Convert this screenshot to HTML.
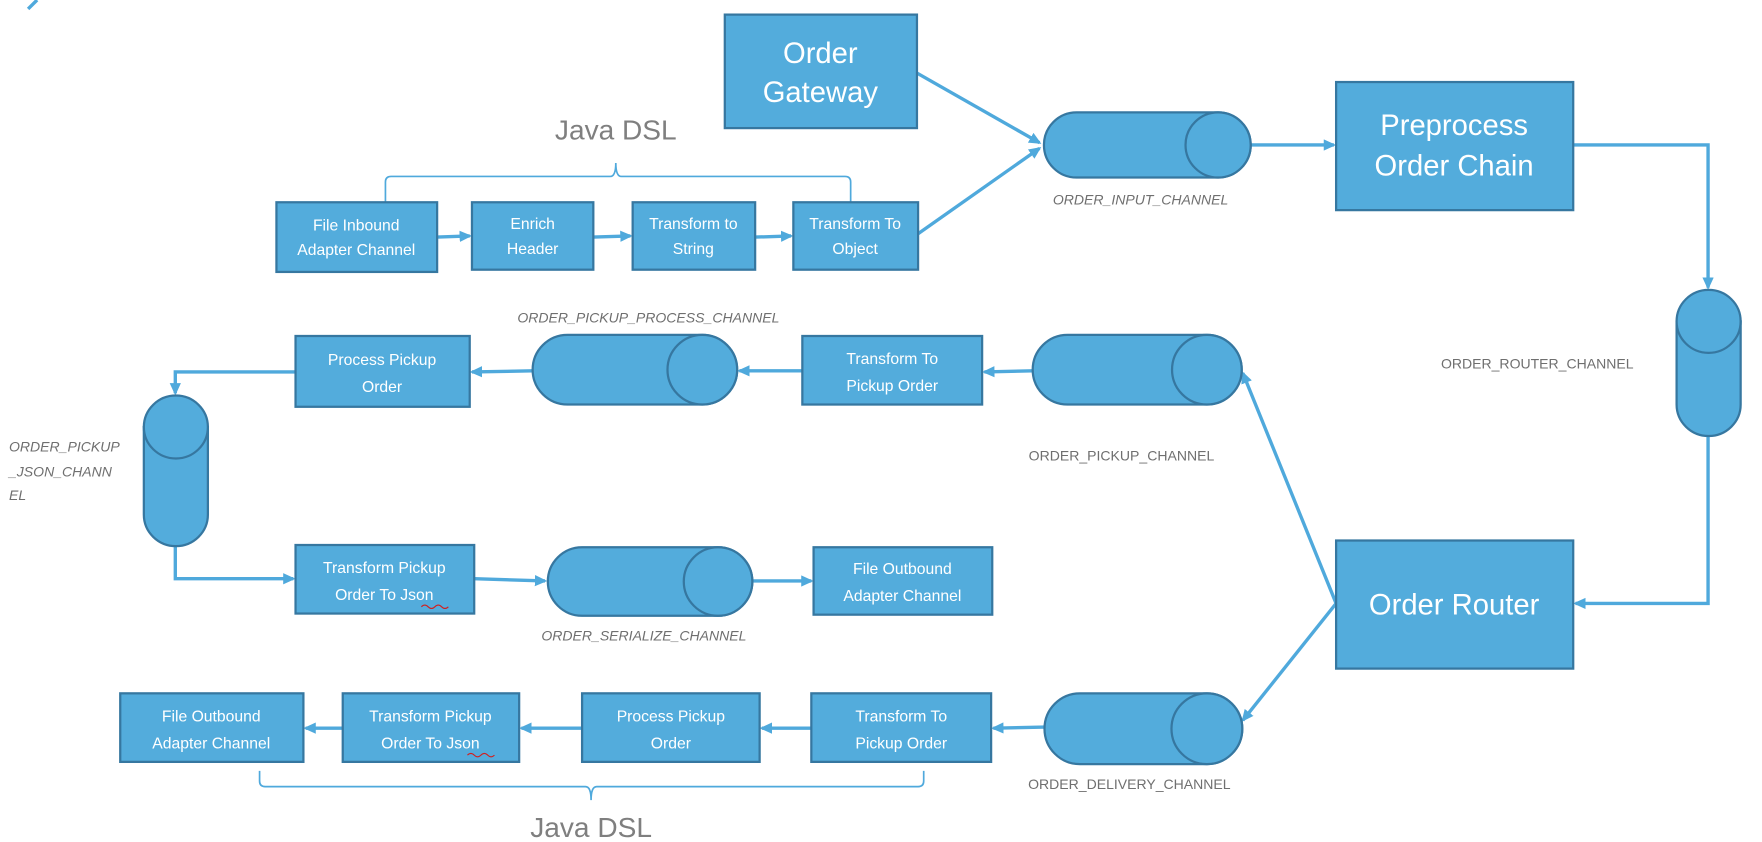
<!DOCTYPE html>
<html><head><meta charset="utf-8"><style>
html,body{margin:0;padding:0;background:#fff;}
svg{display:block}
.b{fill:#53acdc;stroke:#3677a0;stroke-width:2}
.t{fill:#fff;font-family:"Liberation Sans",sans-serif;text-anchor:middle}
.s{font-size:14px}
.L{font-size:26px}
.a{stroke:#4fa9dc;stroke-width:3;fill:none}
.lab{fill:#6f6f6f;font-family:"Liberation Sans",sans-serif;font-size:12.5px;text-anchor:middle}
.i{font-style:italic}
.j{fill:#7f7f7f;font-family:"Liberation Sans",sans-serif;font-size:25px;text-anchor:middle}
</style></head><body>
<svg width="1762" height="842" viewBox="0 0 1568 749.3" preserveAspectRatio="none">
<defs><marker id="m" markerWidth="12" markerHeight="12" refX="9" refY="5" orient="auto" markerUnits="userSpaceOnUse"><path d="M0,0 L11,5 L0,10 Z" fill="#4fa9dc"/></marker></defs>
<line x1="25" y1="8" x2="33" y2="0" class="a"/>

<line class="a" x1="816" y1="65" x2="925" y2="127" marker-end="url(#m)"/>
<line class="a" x1="817" y1="208" x2="925" y2="132" marker-end="url(#m)"/>
<line class="a" x1="1113" y1="129" x2="1187" y2="129" marker-end="url(#m)"/>
<polyline class="a" points="1400,129 1520,129 1520,256" marker-end="url(#m)"/>
<polyline class="a" points="1520,388 1520,537 1402,537" marker-end="url(#m)"/>
<polyline class="a" points="1189,537 1106,332" marker-end="url(#m)"/>
<polyline class="a" points="1189,537 1106,641" marker-end="url(#m)"/>
<line class="a" x1="389" y1="211" x2="418" y2="210" marker-end="url(#m)"/>
<line class="a" x1="528" y1="211" x2="561" y2="210" marker-end="url(#m)"/>
<line class="a" x1="672" y1="211" x2="704" y2="210" marker-end="url(#m)"/>
<line class="a" x1="919" y1="330" x2="876" y2="331" marker-end="url(#m)"/>
<line class="a" x1="714" y1="330" x2="658" y2="330" marker-end="url(#m)"/>
<line class="a" x1="474" y1="330" x2="420" y2="331" marker-end="url(#m)"/>
<polyline class="a" points="263,331 156,331 156,350" marker-end="url(#m)"/>
<polyline class="a" points="156,486 156,515 261,515" marker-end="url(#m)"/>
<line class="a" x1="422" y1="515" x2="485" y2="517" marker-end="url(#m)"/>
<line class="a" x1="669" y1="517" x2="722" y2="517" marker-end="url(#m)"/>
<line class="a" x1="930" y1="647" x2="884" y2="648" marker-end="url(#m)"/>
<line class="a" x1="722" y1="648" x2="678" y2="648" marker-end="url(#m)"/>
<line class="a" x1="518" y1="648" x2="464" y2="648" marker-end="url(#m)"/>
<line class="a" x1="305" y1="648" x2="272" y2="648" marker-end="url(#m)"/>

<path d="M343,180 L343,162 Q343,157 348,157 L543,157 Q548,157 548,145 Q548,157 553,157 L752,157 Q757,157 757,162 L757,180" stroke="#4fa9dc" stroke-width="1.5" fill="none"/>
<text class="j" x="548" y="124">Java DSL</text>
<path d="M231,686 L231,695 Q231,700 236,700 L521,700 Q526,700 526,712 Q526,700 531,700 L817,700 Q822,700 822,695 L822,686" stroke="#4fa9dc" stroke-width="1.5" fill="none"/>
<text class="j" x="526" y="745">Java DSL</text>

<rect class="b" x="645" y="13" width="171" height="101"/>
<text class="t L" x="730" y="56">Order</text><text class="t L" x="730" y="91">Gateway</text>
<rect class="b" x="1189" y="73" width="211" height="114"/>
<text class="t L" x="1294" y="120">Preprocess</text><text class="t L" x="1294" y="156">Order Chain</text>
<rect class="b" x="1189" y="481" width="211" height="114"/>
<text class="t L" x="1294" y="547">Order Router</text>

<g>
<rect class="b" x="246" y="180" width="143" height="62"/><text class="t s" x="317" y="205">File Inbound</text><text class="t s" x="317" y="227">Adapter Channel</text>
<rect class="b" x="420" y="180" width="108" height="60"/><text class="t s" x="474" y="204">Enrich</text><text class="t s" x="474" y="226">Header</text>
<rect class="b" x="563" y="180" width="109" height="60"/><text class="t s" x="617" y="204">Transform to</text><text class="t s" x="617" y="226">String</text>
<rect class="b" x="706" y="180" width="111" height="60"/><text class="t s" x="761" y="204">Transform To</text><text class="t s" x="761" y="226">Object</text>

<rect class="b" x="714" y="299" width="160" height="61"/><text class="t s" x="794" y="324">Transform To</text><text class="t s" x="794" y="348">Pickup Order</text>
<rect class="b" x="263" y="299" width="155" height="63"/><text class="t s" x="340" y="325">Process Pickup</text><text class="t s" x="340" y="349">Order</text>
<rect class="b" x="263" y="485" width="159" height="61"/><text class="t s" x="342" y="510">Transform Pickup</text><text class="t s" x="342" y="534">Order To Json</text>
<rect class="b" x="724" y="487" width="159" height="60"/><text class="t s" x="803" y="511">File Outbound</text><text class="t s" x="803" y="535">Adapter Channel</text>

<rect class="b" x="722" y="617" width="160" height="61"/><text class="t s" x="802" y="642">Transform To</text><text class="t s" x="802" y="666">Pickup Order</text>
<rect class="b" x="518" y="617" width="158" height="61"/><text class="t s" x="597" y="642">Process Pickup</text><text class="t s" x="597" y="666">Order</text>
<rect class="b" x="305" y="617" width="157" height="61"/><text class="t s" x="383" y="642">Transform Pickup</text><text class="t s" x="383" y="666">Order To Json</text>
<rect class="b" x="107" y="617" width="163" height="61"/><text class="t s" x="188" y="642">File Outbound</text><text class="t s" x="188" y="666">Adapter Channel</text>
</g>
<path d="M375,540 q3,-3 6,0 t6,0 t6,0 t6,0" stroke="#d02020" fill="none" stroke-width="1"/>
<path d="M416,672 q3,-3 6,0 t6,0 t6,0 t6,0" stroke="#d02020" fill="none" stroke-width="1"/>

<g>
<path class="b" d="M958,100 L1084,100 A29,29 0 0 1 1084,158 L958,158 A29,29 0 0 1 958,100 Z"/><ellipse class="b" cx="1084" cy="129" rx="29" ry="29"/>
<path class="b" d="M950,298 L1074,298 A31,31 0 0 1 1074,360 L950,360 A31,31 0 0 1 950,298 Z"/><ellipse class="b" cx="1074" cy="329" rx="31" ry="31"/>
<path class="b" d="M505,298 L625,298 A31,31 0 0 1 625,360 L505,360 A31,31 0 0 1 505,298 Z"/><ellipse class="b" cx="625" cy="329" rx="31" ry="31"/>
<path class="b" d="M518,487 L639,487 A30.5,30.5 0 0 1 639,548 L518,548 A30.5,30.5 0 0 1 518,487 Z"/><ellipse class="b" cx="639" cy="517.5" rx="30.5" ry="30.5"/>
<path class="b" d="M961,617 L1074,617 A31.5,31.5 0 0 1 1074,680 L961,680 A31.5,31.5 0 0 1 961,617 Z"/><ellipse class="b" cx="1074" cy="648.5" rx="31.5" ry="31.5"/>
</g>
<path class="b" d="M1492,286 L1492,360 A28.5,28 0 0 0 1549,360 L1549,286 Z"/><ellipse class="b" cx="1520.5" cy="286" rx="28.5" ry="28"/>
<path class="b" d="M128,380 L128,458 A28.5,28 0 0 0 185,458 L185,380 Z"/><ellipse class="b" cx="156.5" cy="380" rx="28.5" ry="28"/>

<text class="lab i" x="1015" y="182">ORDER_INPUT_CHANNEL</text>
<text class="lab" x="1368" y="328">ORDER_ROUTER_CHANNEL</text>
<text class="lab" x="998" y="410">ORDER_PICKUP_CHANNEL</text>
<text class="lab i" x="577" y="287">ORDER_PICKUP_PROCESS_CHANNEL</text>
<text class="lab i" x="573" y="570">ORDER_SERIALIZE_CHANNEL</text>
<text class="lab" x="1005" y="702">ORDER_DELIVERY_CHANNEL</text>
<text class="lab i" x="8" y="402" style="text-anchor:start">ORDER_PICKUP</text>
<text class="lab i" x="8" y="424" style="text-anchor:start">_JSON_CHANN</text>
<text class="lab i" x="8" y="445" style="text-anchor:start">EL</text>
</svg>
</body></html>
